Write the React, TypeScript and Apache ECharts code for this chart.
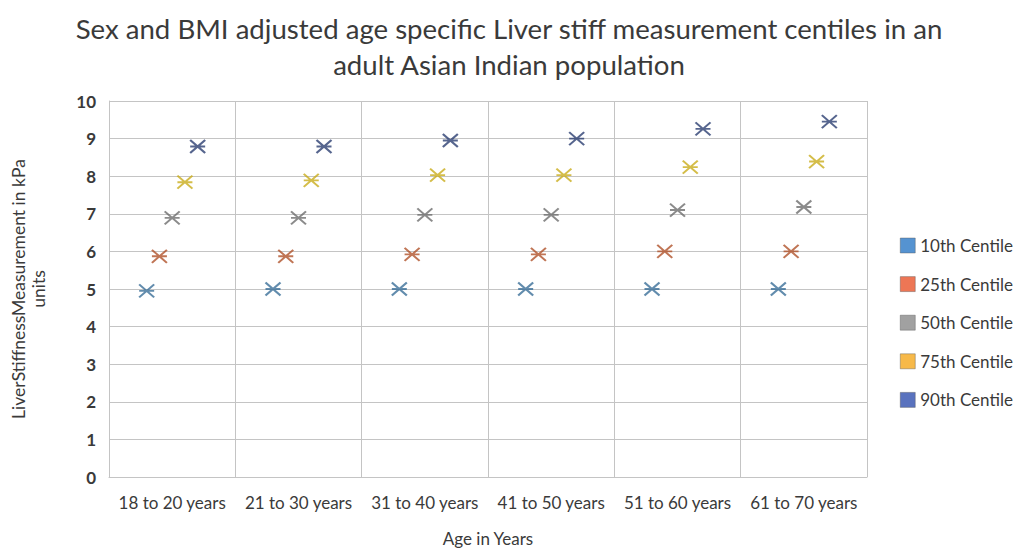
import React, { useEffect, useRef } from "react";
import * as echarts from "echarts";

const categories = ["18 to 20 years", "21 to 30 years", "31 to 40 years", "41 to 50 years", "51 to 60 years", "61 to 70 years"];
const seriesNames = ["10th Centile", "25th Centile", "50th Centile", "75th Centile", "90th Centile"];
const p10 = [4.95, 5.0, 5.0, 5.0, 5.0, 5.0];
const p25 = [5.87, 5.87, 5.92, 5.92, 6.0, 6.0];
const p50 = [6.89, 6.89, 6.97, 6.97, 7.1, 7.18];
const p75 = [7.84, 7.89, 8.03, 8.03, 8.24, 8.39];
const p90 = [8.79, 8.79, 8.95, 9.0, 9.26, 9.45];
const yTicks = [0, 1, 2, 3, 4, 5, 6, 7, 8, 9, 10];

const markerColors = ["#3b6f98", "#b0532a", "#6e6e6e", "#c9ad1c", "#2c3f72"];
const legendColors = ["#2a78c6", "#e8542a", "#8a8a8a", "#f5a81c", "#2f4fae"];
const offsets = [-25.5, -12.75, 0, 12.75, 25.5];

const STAR = "path://M0,0L12,12M12,0L0,12M0,6L12,6";

export default function App() {
  const ref = useRef<HTMLDivElement>(null);
  useEffect(() => {
    if (!ref.current) return;
    const chart = echarts.init(ref.current, undefined, { renderer: "svg" });
    const data = [p10, p25, p50, p75, p90];
    const font = "Lato, 'Open Sans', sans-serif";
    chart.setOption({
      animation: false,
      backgroundColor: "#ffffff",
      textStyle: { fontFamily: font },
      title: {
        text: "Sex and BMI adjusted age specific Liver stiff measurement centiles in an\nadult Asian Indian population",
        left: "center",
        top: 5,
        textStyle: { fontFamily: font, fontSize: 27.6, fontWeight: "normal", color: "#3a3a3a", lineHeight: 36 },
      },
      legend: {
        orient: "vertical",
        left: 895,
        top: 232,
        itemWidth: 15,
        itemHeight: 15,
        itemGap: 21.6,
        icon: "rect",
        textStyle: { fontFamily: font, fontSize: 17, color: "#3a3a3a" },
        data: seriesNames.map((n, i) => ({
          name: n,
          icon: "rect",
          itemStyle: { color: legendColors[i], borderColor: "#555", borderWidth: 0.5 },
        })),
      },
      grid: { left: 103, right: 151, top: 101, bottom: 70, containLabel: false },
      xAxis: {
        type: "category",
        data: categories,
        name: "Age in Years",
        nameLocation: "middle",
        nameGap: 53,
        nameTextStyle: { fontFamily: font, fontSize: 17, color: "#3a3a3a" },
        axisLine: { show: true, lineStyle: { color: "#c4c4c4" } },
        axisTick: { show: false },
        axisLabel: { interval: 0, fontFamily: font, fontSize: 17, color: "#3a3a3a", margin: 17 },
        splitLine: { show: true, interval: 0, lineStyle: { color: "#c4c4c4", width: 1 } },
      },
      yAxis: {
        type: "value",
        min: 0,
        max: 10,
        interval: 1,
        name: "LiverStiffnessMeasurement in kPa\nunits",
        nameLocation: "middle",
        nameGap: 61,
        nameRotate: 90,
        nameTextStyle: { fontFamily: font, fontSize: 17.5, color: "#3a3a3a", lineHeight: 20 },
        axisLine: { show: true, lineStyle: { color: "#c4c4c4" } },
        axisTick: { show: false },
        axisLabel: {
          fontFamily: font,
          fontSize: 17,
          fontWeight: "bold",
          color: "#3a3a3a",
          margin: 13,
          formatter: (v: number) => (yTicks.includes(v) ? String(v) : ""),
        },
        splitLine: { show: true, lineStyle: { color: "#c4c4c4", width: 1 } },
      },
      series: seriesNames.map((n, i) => ({
        name: n,
        type: "scatter",
        data: data[i],
        symbol: STAR,
        symbolSize: [15, 13],
        symbolOffset: [offsets[i], 0],
        itemStyle: { color: "rgba(0,0,0,0)", borderColor: markerColors[i], borderWidth: 2 },
        z: 3,
      })),
    });
    return () => chart.dispose();
  }, []);
  return <div ref={ref} style={{ position: "fixed", left: 0, top: 0, width: 1018, height: 552 }} />;
}
